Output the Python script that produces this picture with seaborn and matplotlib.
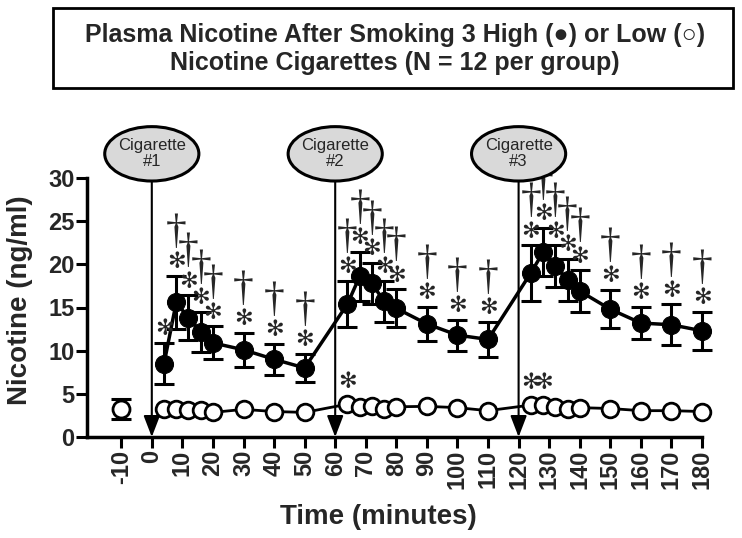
import matplotlib
matplotlib.use("Agg")
import matplotlib.pyplot as plt
import seaborn as sns
from matplotlib.patches import Ellipse, Rectangle

# Sampling times (minutes after first cigarette)
TIME = [4, 8, 12, 16, 20, 30, 40, 50,
        64, 68, 72, 76, 80, 90, 100, 110,
        124, 128, 132, 136, 140, 150, 160, 170, 180]

# High nicotine cigarettes (filled circles), mean and SEM
HIGH_MEAN = [8.5, 15.6, 13.8, 12.2, 10.9, 10.1, 9.0, 8.0,
             15.4, 18.6, 17.8, 15.7, 14.9, 13.1, 11.8, 11.3,
             19.0, 21.4, 19.8, 18.2, 16.9, 14.8, 13.2, 13.0, 12.3]
HIGH_SEM = [2.4, 3.1, 2.6, 2.3, 1.9, 2.0, 1.8, 1.6,
            2.65, 2.8, 2.4, 2.4, 2.2, 2.0, 1.8, 2.0,
            3.2, 2.8, 2.4, 2.45, 2.4, 2.2, 1.9, 2.35, 2.2]
HIGH_DAGGER = [0, 1, 1, 1, 1, 1, 1, 1,
               1, 1, 1, 1, 1, 1, 1, 1,
               1, 1, 1, 1, 1, 1, 1, 1, 1]

# Low nicotine cigarettes (open circles)
LOW_MEAN = [3.3, 3.3, 3.1, 3.1, 2.85, 3.2, 2.95, 2.85,
            3.8, 3.5, 3.55, 3.3, 3.5, 3.55, 3.4, 3.05,
            3.7, 3.7, 3.5, 3.3, 3.4, 3.3, 3.05, 3.05, 2.95]
LOW_SEM = [0.3, 0.3, 0.3, 0.3, 0.3, 0.3, 0.3, 0.3,
           0.3, 0.3, 0.3, 0.3, 0.3, 0.3, 0.3, 0.3,
           0.3, 0.3, 0.3, 0.3, 0.3, 0.3, 0.3, 0.3, 0.3]
LOW_STAR_TIMES = [64, 124, 128]

# Baseline sample
BASE_TIME = [-10]
BASE_MEAN = [3.2]
BASE_SEM = [1.15]

CIG_TIMES = [0, 60, 120]
CIG_LABELS = ["Cigarette\n#1", "Cigarette\n#2", "Cigarette\n#3"]
XTICKS = [-10, 0, 10, 20, 30, 40, 50, 60, 70, 80, 90, 100,
          110, 120, 130, 140, 150, 160, 170, 180]
YTICKS = [0, 5, 10, 15, 20, 25, 30]

sns.set_theme(style="ticks")
plt.rcParams['font.family'] = ['Liberation Sans', 'DejaVu Sans']

fig = plt.figure(figsize=(7.42, 5.38), dpi=100)
ax = fig.add_axes([87 / 742, 1 - 437 / 538, (702 - 87) / 742, (437 - 178) / 538])

# Error bars
ax.errorbar(TIME, HIGH_MEAN, yerr=HIGH_SEM, fmt='none', ecolor='black',
            elinewidth=2.2, capsize=7, capthick=2.2, zorder=3, clip_on=False)
ax.errorbar(TIME, LOW_MEAN, yerr=LOW_SEM, fmt='none', ecolor='black',
            elinewidth=2.0, capsize=5, capthick=2.0, zorder=3)
ax.errorbar(BASE_TIME, BASE_MEAN, yerr=BASE_SEM, fmt='none', ecolor='black',
            elinewidth=2.2, capsize=7, capthick=2.2, zorder=3)

# Lines and markers
sns.lineplot(x=TIME, y=HIGH_MEAN, ax=ax, color='black', lw=2.5, marker='o',
             markersize=13, markerfacecolor='black', markeredgecolor='black',
             zorder=5, clip_on=False)
sns.lineplot(x=TIME, y=LOW_MEAN, ax=ax, color='black', lw=2.0, marker='o',
             markersize=12, markerfacecolor='white', markeredgecolor='black',
             markeredgewidth=2.0, zorder=5, clip_on=False)
sns.scatterplot(x=BASE_TIME, y=BASE_MEAN, ax=ax, s=150, color='white',
                edgecolor='black', linewidth=2.0, zorder=6)

# Significance markers
for t, m, s, d in zip(TIME, HIGH_MEAN, HIGH_SEM, HIGH_DAGGER):
    ax.text(t, m + s + 1.6, '✻', ha='center', va='center', fontsize=16,
            family='DejaVu Sans', zorder=7)
    if d:
        ax.text(t, m + s + 5.0, '†', ha='center', va='center', fontsize=30,
                family='Liberation Serif', zorder=7, clip_on=False)
for t, m in zip(TIME, LOW_MEAN):
    if t in LOW_STAR_TIMES:
        ax.text(t, m + 2.6, '✻', ha='center', va='center', fontsize=16,
                family='DejaVu Sans', zorder=7)

# Cigarette markers
for t, lab in zip(CIG_TIMES, CIG_LABELS):
    ax.add_patch(Ellipse((t, 32.8), width=30.8, height=6.3, facecolor='#d9d9d9',
                         edgecolor='black', lw=2.2, clip_on=False, zorder=8))
    ax.text(t, 32.8, lab, ha='center', va='center', fontsize=12,
            linespacing=1.1, zorder=9, clip_on=False)
    ax.annotate('', xy=(t, 0), xytext=(t, 32.8 - 3.15),
                arrowprops=dict(arrowstyle='-|>,head_length=0.65,head_width=0.25',
                                color='black', lw=1.5, shrinkA=0, shrinkB=0,
                                mutation_scale=20),
                annotation_clip=False, zorder=4)

ax.set_xlim(-21.2, 180)
ax.set_ylim(0, 30)
ax.set_xticks(XTICKS)
ax.set_yticks(YTICKS)
ax.set_xticklabels([str(v) for v in XTICKS], rotation=90, fontweight='bold',
                   fontsize=17)
ax.set_yticklabels([str(v) for v in YTICKS], fontweight='bold', fontsize=17)
ax.tick_params(axis='both', width=2.2, length=8, color='black')
ax.tick_params(axis='x', pad=1)
ax.tick_params(axis='y', pad=1)

sns.despine(ax=ax)
for side in ['left', 'bottom']:
    ax.spines[side].set_linewidth(2.5)
    ax.spines[side].set_color('black')

ax.set_xlabel('Time (minutes)', fontsize=20, fontweight='bold')
ax.xaxis.set_label_coords((378 - 87) / 615, (437 - 517) / 259)
ax.xaxis.label.set_va('center')
ax.set_ylabel('Nicotine (ng/ml)', fontsize=20, fontweight='bold')
ax.yaxis.set_label_coords((20 - 87) / 615, (437 - 300) / 259)
ax.yaxis.label.set_va('center')

# Title box
fig.add_artist(Rectangle((53 / 742, 1 - 88 / 538), (733 - 53) / 742, 80 / 538,
                         transform=fig.transFigure, fill=False, lw=2,
                         edgecolor='black'))
fig.text(395 / 742, 1 - 35 / 538,
         'Plasma Nicotine After Smoking 3 High (●) or Low (○)',
         ha='center', va='center', fontsize=18, fontweight='bold')
fig.text(395 / 742, 1 - 63 / 538, 'Nicotine Cigarettes (N = 12 per group)',
         ha='center', va='center', fontsize=18, fontweight='bold')

fig.savefig('out.png', dpi=100)
